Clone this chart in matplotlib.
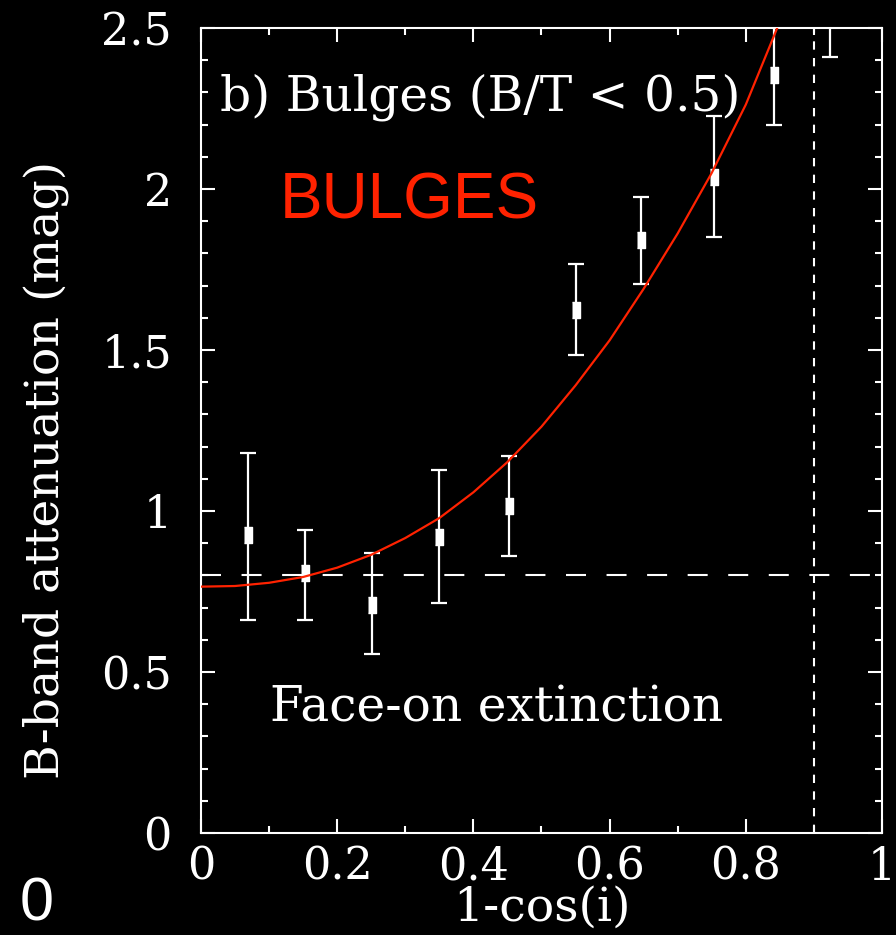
import numpy as np
import matplotlib
matplotlib.use("Agg")
import matplotlib.pyplot as plt
from matplotlib.ticker import MultipleLocator

# binned B-band attenuation vs 1-cos(i) for bulge-dominated galaxies
incl = [0.069, 0.153, 0.251, 0.349, 0.453, 0.550, 0.646, 0.754, 0.841, 0.924]
atten = [0.925, 0.807, 0.708, 0.919, 1.016, 1.624, 1.840, 2.037, 2.355, 2.66]
err_lo = [0.265, 0.147, 0.152, 0.205, 0.156, 0.140, 0.135, 0.186, 0.155, 0.25]
err_hi = [0.255, 0.133, 0.162, 0.208, 0.154, 0.143, 0.135, 0.190, 0.155, 0.25]

fit_x = [0.0, 0.05, 0.10, 0.15, 0.20, 0.25, 0.30, 0.35, 0.40, 0.45,
         0.50, 0.55, 0.60, 0.65, 0.70, 0.75, 0.80, 0.85, 0.87]
fit_y = [0.765, 0.767, 0.777, 0.795, 0.824, 0.864, 0.916, 0.978, 1.058, 1.152,
         1.262, 1.390, 1.530, 1.690, 1.862, 2.050, 2.262, 2.520, 2.62]

face_on = 0.8
x_cut = 0.9

plt.rcParams["lines.scale_dashes"] = False
serif = "DejaVu Serif"

fig = plt.figure(figsize=(8.96, 9.35), dpi=100, facecolor="black")
ax = fig.add_axes([0.2243, 0.1091, 0.7601, 0.8610])
ax.set_facecolor("black")

ax.errorbar(incl, atten, yerr=[err_lo, err_hi], fmt="none", ecolor="white",
            elinewidth=1.6, capsize=6, capthick=1.6, zorder=3)
ax.plot(incl, atten, ls="none", marker=[(-0.5, -1), (0.5, -1), (0.5, 1), (-0.5, 1)],
        ms=11, color="white", zorder=4)
ax.plot(fit_x, fit_y, color="#ff2200", lw=1.6, zorder=5)

ax.axhline(face_on, color="white", lw=1.5, dashes=(14.4, 14.8), zorder=2)
ax.axvline(x_cut, color="white", lw=1.5, dashes=(6, 6), zorder=2)

ax.set_xlim(0, 1)
ax.set_ylim(0, 2.5)
ax.xaxis.set_minor_locator(MultipleLocator(0.1))
ax.yaxis.set_minor_locator(MultipleLocator(0.1))
ax.set_xticks([0, 0.2, 0.4, 0.6, 0.8, 1.0])
ax.set_xticklabels(["0", "0.2", "0.4", "0.6", "0.8", "1"])
ax.set_yticks([0, 0.5, 1.0, 1.5, 2.0, 2.5])
ax.set_yticklabels(["0", "0.5", "1", "1.5", "2", "2.5"])

ax.tick_params(which="both", direction="in", top=True, right=True,
               colors="white", width=1.5)
ax.tick_params(which="major", length=10, labelsize=32)
ax.tick_params(which="minor", length=5)
ax.tick_params(axis="x", which="major", pad=9)
ax.tick_params(axis="y", which="major", pad=21)
for lab in ax.get_xticklabels() + ax.get_yticklabels():
    lab.set_family(serif)
for sp in ax.spines.values():
    sp.set_color("white")
    sp.set_linewidth(1.5)

ax.set_xlabel("1-cos(i)", family=serif, fontsize=34, color="white", labelpad=-2)
ax.set_ylabel("B-band attenuation (mag)", family=serif, fontsize=34, color="white")
ax.yaxis.set_label_coords(-0.194, 0.451)

ax.text(0.028, 0.914, "b) Bulges (B/T < 0.5)", transform=ax.transAxes,
        family=serif, fontsize=35, color="white", va="center", ha="left")
ax.text(0.115, 0.785, "BULGES", transform=ax.transAxes, family="Liberation Sans",
        fontsize=46, color="#ff2200", va="center", ha="left")
ax.text(0.101, 0.155, "Face-on extinction", transform=ax.transAxes,
        family=serif, fontsize=35, color="white", va="center", ha="left")

fig.text(0.041, 0.032, "0", family="Liberation Sans", fontsize=44,
         color="white", ha="center", va="center")

fig.savefig("out.png", dpi=100, facecolor="black")
